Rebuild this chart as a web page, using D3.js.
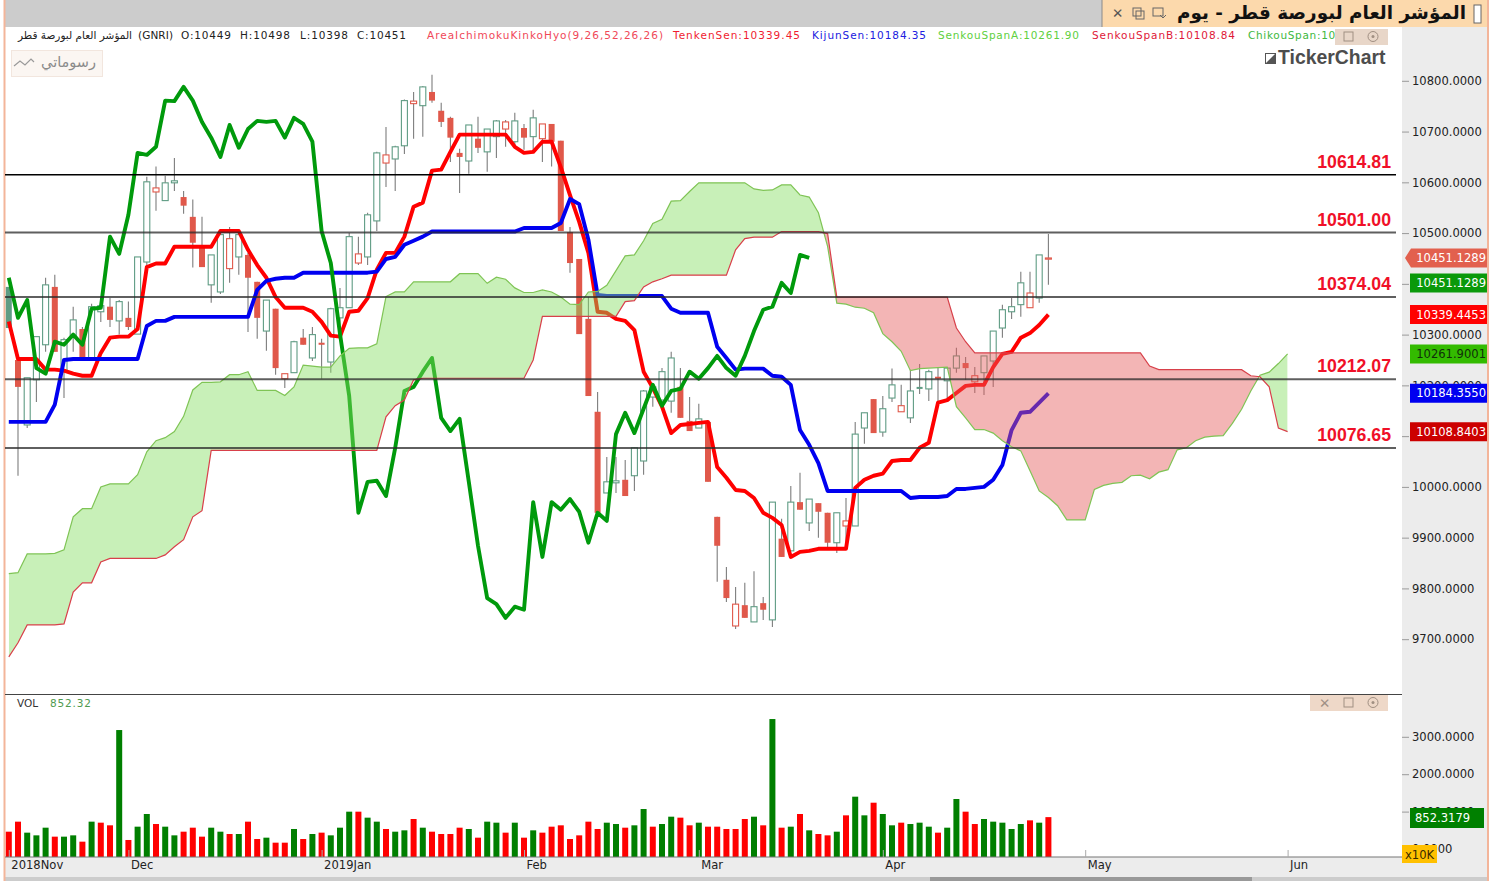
<!DOCTYPE html>
<html><head><meta charset="utf-8">
<script src="https://cdnjs.cloudflare.com/ajax/libs/d3/7.8.5/d3.min.js"></script>
<style>
html,body{margin:0;padding:0;background:#fff;overflow:hidden}
svg{display:block}
text{font-family:"DejaVu Sans",sans-serif}
</style></head><body>
<svg id="c" width="1489" height="881"></svg>
<script>
const opens=[10394,10250,10122,10211,10280,10394,10227,10296,10311,10254,
10345,10355,10327,10333,10301,10443,10581,10564,10599,10571,
10532,10473,10398,10384,10430,10453,10457,10404,10307,10351,
10213,10225,10294,10254,10284,10246,10333,10353,10441,10453,
10524,10638,10646,10672,10755,10751,10778,10741,10727,10658,
10642,10686,10660,10690,10705,10680,10707,10690,10686,10715,
10682,10502,10449,10331,10148,9988,10008,10014,10022,10051,
10177,10171,10169,10197,10130,10116,10128,9941,9817,9726,
9767,9734,9771,9738,9898,9874,9970,9929,9968,9949,
9890,9923,9923,10116,10173,10108,10175,10148,10136,10197,
10193,10217,10209,10234,10244,10207,10225,10248,10313,10345,
10359,10353,10372,10449];
const highs=[10394,10250,10215,10296,10412,10418,10294,10355,10315,10361,
10363,10372,10368,10365,10453,10611,10631,10613,10648,10583,
10566,10532,10457,10497,10512,10500,10461,10404,10368,10351,
10223,10288,10311,10315,10292,10353,10392,10500,10493,10540,
10660,10709,10672,10763,10778,10790,10812,10757,10729,10666,
10713,10729,10705,10723,10723,10737,10715,10743,10715,10715,
10682,10512,10449,10374,10187,10059,10059,10053,10077,10191,
10203,10234,10266,10234,10177,10164,10128,9941,9842,9803,
9811,9834,9783,9970,9937,10002,10028,9976,9968,9949,
9949,9978,10128,10146,10173,10179,10233,10201,10231,10242,
10231,10234,10236,10274,10256,10236,10258,10307,10359,10372,
10424,10424,10457,10498];
const lows=[10313,10022,10116,10167,10266,10266,10175,10266,10254,10254,
10325,10315,10300,10309,10301,10432,10544,10564,10583,10538,
10432,10433,10363,10380,10402,10418,10305,10292,10268,10221,
10195,10225,10280,10248,10213,10225,10303,10353,10437,10437,
10504,10591,10583,10656,10686,10690,10757,10709,10640,10579,
10617,10658,10621,10648,10670,10674,10664,10664,10640,10631,
10504,10422,10301,10179,9949,9988,9988,9982,9992,10024,
10158,10171,10146,10136,10110,10116,10010,9813,9773,9720,
9742,9734,9738,9724,9862,9874,9955,9913,9900,9880,
9870,9876,9923,10085,10106,10099,10167,10148,10126,10183,
10169,10167,10175,10225,10211,10185,10181,10197,10294,10331,
10335,10353,10363,10398];
const closes=[10313,10197,10215,10296,10398,10266,10290,10329,10254,10355,
10357,10329,10365,10315,10453,10601,10589,10599,10603,10554,
10481,10433,10457,10497,10489,10497,10412,10333,10368,10234,
10223,10286,10280,10300,10280,10351,10353,10493,10459,10536,
10658,10654,10670,10761,10760,10788,10761,10719,10688,10650,
10713,10668,10705,10721,10719,10721,10688,10727,10715,10680,
10504,10441,10301,10179,9949,10010,10012,9982,10077,10189,
10197,10227,10254,10136,10110,10134,10010,9884,9781,9769,
9742,9764,9758,9970,9862,9970,9955,9976,9951,9890,
9949,9933,10104,10146,10106,10154,10201,10160,10189,10193,
10227,10213,10234,10258,10234,10219,10258,10307,10349,10355,
10402,10382,10457,10451];
const tenkan=[10326,10252,10252,10252,10231,10231,10229,10223,10219,10219,
10264,10294,10296,10296,10311,10433,10440,10440,10473,10473,
10473,10473,10473,10504,10504,10504,10467,10437,10412,10374,
10353,10353,10353,10345,10325,10298,10296,10345,10347,10372,
10428,10461,10461,10493,10552,10560,10623,10625,10660,10694,
10694,10694,10694,10694,10694,10670,10658,10660,10680,10680,
10630,10575,10522,10461,10345,10343,10331,10327,10309,10227,
10195,10158,10106,10122,10124,10126,10128,10039,10018,9994,
9992,9978,9949,9939,9925,9862,9872,9874,9878,9878,
9878,9878,9998,10014,10022,10026,10051,10053,10053,10077,
10087,10166,10171,10185,10199,10201,10201,10236,10262,10266,
10294,10303,10319,10339.45];
const kijun=[10128,10128,10128,10128,10128,10162,10250,10252,10252,10252,
10252,10252,10252,10252,10252,10317,10327,10327,10335,10335,
10335,10335,10335,10335,10335,10335,10335,10388,10406,10410,
10412,10412,10422,10422,10422,10422,10422,10422,10422,10422,
10424,10449,10453,10477,10485,10493,10503,10503,10503,10503,
10503,10503,10503,10503,10503,10503,10510,10510,10510,10510,
10520,10567,10557,10487,10378,10376,10376,10376,10376,10376,
10376,10376,10351,10343,10343,10343,10343,10276,10254,10231,
10233,10233,10233,10219,10217,10201,10112,10083,10047,9992,
9992,9992,9992,9992,9992,9992,9992,9992,9978,9980,
9980,9980,9982,9996,9996,9998,10000,10014,10043,10112,
10146,10148,10166,10184.35];
const chikou=[10412,10333,10368,10234,10223,10286,10280,10300,10280,10351,
10353,10493,10459,10536,10658,10654,10670,10761,10760,10788,
10761,10719,10688,10650,10713,10668,10705,10721,10719,10721,
10688,10727,10715,10680,10504,10441,10301,10179,9949,10010,
10012,9982,10077,10189,10197,10227,10254,10136,10110,10134,
10010,9884,9781,9769,9742,9764,9758,9970,9862,9970,
9955,9976,9951,9890,9949,9933,10104,10146,10106,10154,
10201,10160,10189,10193,10227,10213,10234,10258,10234,10219,
10258,10307,10349,10355,10402,10382,10457,10451];
const spanA=[9829,9831,9868,9868,9868,9869,9876,9941,9957,9957,
10000,10006,10006,10006,10024,10069,10091,10097,10109,10139,
10191,10206,10206,10207,10221,10221,
10227,10190,10190,10190,10180,10197,10240,10238,10236,10236,
10258,10273,10274,10274,10282,10375,10384,10384,10404,10404,
10404,10404,10404,10420,10420,10420,10401,10413,10409,10392,
10383,10383,10388,10384,10374,10360,10359,10384,10385,10397,
10426,10455,10457,10485,10519,10527,10563,10564,10582,10599,
10599,10599,10599,10599,10599,10587,10584,10585,10595,10595,
10575,10571,10540,10474,10362,10360,10354,10352,10343,10302,
10286,10267,10229,10233,10234,10235,10236,10158,10136,10113,
10113,10106,10091,10079,10071,10032,9992,9979,9963,9935,
9935,9935,9995,10003,10007,10009,10022,10023,10016,10029,
10034,10073,10077,10091,10098,10100,10101,10125,10153,10189,
10220,10226,10243,10261.90];
const spanB=[9665,9693,9728,9728,9728,9728,9730,9793,9811,9811,
9852,9859,9859,9859,9859,9859,9859,9866,9882,9896,
9941,9953,10072,10072,10072,10072,10072,10072,10072,10072,
10072,10072,10072,10072,10072,10072,10072,10072,10072,10072,
10072,10138,10160,10171,10211,10214,10214,10214,10214,10214,
10214,10214,10214,10214,10214,10214,10214,10250,10336,10336,
10336,10336,10336,10336,10336,10336,10336,10365,10367,10394,
10404,10410,10417,10417,10417,10417,10417,10417,10417,10467,
10489,10492,10492,10492,10503,10503,10503,10503,10503,10499,
10374,10374,10374,10374,10374,10374,10374,10374,10374,10374,
10374,10374,10374,10313,10286,10264,10264,10264,10264,10264,
10264,10264,10264,10264,10264,10264,10264,10264,10264,10264,
10264,10264,10264,10264,10238,10231,10231,10231,10231,10231,
10231,10231,10231,10231,10231,10219,10217,10197,10116,10108.84];
const volumes=[463,731,437,365,570,330,330,365,196,731,704,633,3181,241,597,936,668,597,365,463,
570,330,570,463,401,401,731,267,303,169,169,535,267,401,437,365,570,998,998,838,
731,535,463,499,802,570,463,401,401,570,535,303,731,704,437,704,303,499,437,597,
633,267,365,731,535,704,668,570,633,1069,597,668,864,838,633,704,597,597,535,535,
802,864,633,3475,570,597,936,499,401,365,463,900,1399,900,1238,936,633,704,668,704,
597,437,570,1337,998,668,802,731,704,535,668,766,704,852.32];
const volUp=[0,0,1,1,1,0,1,1,0,1,0,0,1,0,1,1,0,1,1,0,
0,0,1,1,0,1,0,0,1,0,0,1,0,1,0,1,1,1,0,1,
1,0,1,1,0,1,0,0,0,0,1,0,1,1,0,1,0,1,0,0,
0,0,0,0,0,1,1,0,1,1,0,1,1,0,0,1,0,0,0,0,
0,1,0,1,0,1,0,1,0,0,1,0,1,1,0,1,1,0,1,1,
1,0,1,1,0,0,1,1,1,1,1,0,1,0];
const levels=[10614.81,10501.00,10374.04,10212.07,10076.65];
const priceTicks=[10800,10700,10600,10500,10400,10300,10200,10100,10000,9900,9800,9700];
const priceTicksCovered=[10400,10100];
const volTicks=[3000,2000,1000,0];
const monthIndex=[0,13,34,56,75,95,117,139];
const monthNames=["2018Nov","Dec","2019Jan","Feb","Mar","Apr","May","Jun"];
const lastTags=[
 {v:10451.1289,t:"10451.1289",fill:"#e2604e",txt:"#fff",arrow:true,off:0},
 {v:10451.1289,t:"10451.1289",fill:"#0a990a",txt:"#fff",off:25},
 {v:10339.4453,t:"10339.4453",fill:"#ff0000",txt:"#fff",off:0},
 {v:10261.9001,t:"10261.9001",fill:"#33bb00",txt:"#10300a",off:0},
 {v:10184.3550,t:"10184.3550",fill:"#0000f0",txt:"#fff",off:0},
 {v:10108.8403,t:"10108.8403",fill:"#cc0000",txt:"#fff",off:0}];

const svg=d3.select("#c");
const x=d3.scaleLinear().domain([0,139]).range([8.8,1287.6]);
const y=d3.scaleLinear().domain([9592,10906]).range([694,27]);
const yV=d3.scaleLinear().domain([-214,4118]).range([857,695]);
const R=(a,b,w,h,f,s)=>svg.append("rect").attr("x",a).attr("y",b).attr("width",w).attr("height",h).attr("fill",f).attr("stroke",s||"none");
const T=(a,b,t,o)=>{const e=svg.append("text").attr("x",a).attr("y",b).text(t);Object.entries(o||{}).forEach(([k,v])=>e.attr(k,v));return e;};

// frame
R(1402,27,85,850,"#ececec");
R(5,857,1482,20,"#ececec");
R(5,0,1097,27,"#cccccc");
R(1102,0,385,27,"#fcd9ac");
svg.append("line").attr("x1",1102).attr("x2",1102).attr("y1",0).attr("y2",27).attr("stroke","#8a8a8a");
R(5,877,1484,4,"#cccccc");
R(930,877,322,4,"#999999");
R(3.5,0,2,881,"#f3b59a");
R(1487,0,2,881,"#f3b59a");

// candles
const idx=d3.range(opens.length);
const col=i=>(i===0||closes[i]>closes[i-1])?"#5f9c84":"#e0584a";
const cg=svg.append("g");
cg.selectAll("line").data(idx).join("line")
 .attr("x1",i=>x(i)).attr("x2",i=>x(i)).attr("y1",i=>y(highs[i])).attr("y2",i=>y(lows[i]))
 .attr("stroke","#7d7d7d").attr("stroke-width",1.1);
cg.selectAll("rect").data(idx).join("rect")
 .attr("x",i=>x(i)-3).attr("width",6)
 .attr("y",i=>y(Math.max(opens[i],closes[i])))
 .attr("height",i=>Math.max(1.2,Math.abs(y(opens[i])-y(closes[i]))))
 .attr("fill",i=>closes[i]<opens[i]?col(i):"#fff")
 .attr("stroke",i=>col(i)).attr("stroke-width",i=>closes[i]<opens[i]?0:1.1);

// ichimoku lines
const line=d3.line().x((d,i)=>x(i)).y(d=>y(d));
[[tenkan,"#ff0000"],[kijun,"#0000f0"],[chikou,"#009a0c"]].forEach(([d,c])=>{
 svg.append("path").attr("d",line(d)).attr("fill","none").attr("stroke",c).attr("stroke-width",3.9).attr("stroke-linejoin","round");
});

// cloud
const defs=svg.append("defs");
const ci=d3.range(spanA.length);
defs.append("clipPath").attr("id","above").append("path")
 .attr("d",d3.area().x(i=>x(i)).y0(0).y1(i=>y(spanB[i]))(ci));
defs.append("clipPath").attr("id","below").append("path")
 .attr("d",d3.area().x(i=>x(i)).y0(881).y1(i=>y(spanB[i]))(ci));
const band=d3.area().x(i=>x(i)).y0(i=>y(spanA[i])).y1(i=>y(spanB[i]));
svg.append("path").attr("d",band(ci)).attr("fill","rgb(133,222,98)").attr("fill-opacity",.45).attr("clip-path","url(#above)");
svg.append("path").attr("d",band(ci)).attr("fill","rgb(228,92,92)").attr("fill-opacity",.45).attr("clip-path","url(#below)");
svg.append("path").attr("d",line(spanA)).attr("fill","none").attr("stroke","#7fc455").attr("stroke-width",1.2);
svg.append("path").attr("d",line(spanB)).attr("fill","none").attr("stroke","#d8404a").attr("stroke-width",1.2);

// levels
svg.append("g").selectAll("line").data(levels).join("line")
 .attr("x1",5).attr("x2",1396).attr("y1",d=>y(d)).attr("y2",d=>y(d))
 .attr("stroke",(d,i)=>i===0?"#000":"#2a2a2a").attr("stroke-width",(d,i)=>i===0?1.4:2).attr("stroke-opacity",(d,i)=>i===0?1:.75);
svg.append("g").selectAll("text").data(levels).join("text")
 .attr("x",1391).attr("y",d=>y(d)-7).attr("text-anchor","end")
 .style("font-family","'Liberation Sans',Arial,sans-serif").style("font-weight","bold").style("font-size","17.7px")
 .attr("fill","#f01028").text(d=>d.toFixed(2));

// volume
svg.append("line").attr("x1",5).attr("x2",1402).attr("y1",694.5).attr("y2",694.5).attr("stroke","#444").attr("stroke-width",1.2);
svg.append("g").selectAll("rect").data(volumes).join("rect")
 .attr("x",(d,i)=>x(i)-3).attr("width",6)
 .attr("y",d=>yV(d)).attr("height",d=>yV(-214)-yV(d))
 .attr("fill",(d,i)=>volUp[i]?"#007f00":"#ff0000");

// axes
const axStyle=g=>{g.select(".domain").remove();g.selectAll("line").attr("stroke","#9a9a9a");
 g.selectAll("text").attr("fill","#222").style("font-family","'DejaVu Sans'").style("font-size","11.55px");};
svg.append("g").attr("transform","translate(1402,0)")
 .call(d3.axisRight(y).tickValues(priceTicks).tickSize(7).tickPadding(3).tickFormat(d=>priceTicksCovered.includes(d)?"":d.toFixed(4))).call(axStyle);
svg.append("g").attr("transform","translate(1402,0)")
 .call(d3.axisRight(d3.scaleLinear().domain([0,3000]).range([849,736.8])).tickValues(volTicks).tickSize(7).tickPadding(3).tickFormat(d=>d.toFixed(4))).call(axStyle);
svg.append("line").attr("x1",5).attr("x2",1402).attr("y1",857).attr("y2",857).attr("stroke","#777").attr("stroke-width",1.2);
const xa=svg.append("g").attr("transform","translate(0,857)")
 .call(d3.axisBottom(x).tickValues(monthIndex).tickSize(-7).tickPadding(3).tickFormat((d,i)=>monthNames[i])).call(axStyle);
xa.selectAll("line").attr("stroke","#aaa");
xa.selectAll("text").attr("text-anchor","start").attr("dx",2).attr("y",4);

// last-value tags
const tg=svg.append("g").selectAll("g").data(lastTags).join("g").attr("transform",d=>`translate(0,${y(d.v)+d.off})`);
tg.append("path").attr("d",d=>d.arrow?"M1405,0L1411,-9.5H1487V9.5H1411Z":"M1410,-9.5H1487V9.5H1410Z").attr("fill",d=>d.fill);
tg.append("text").attr("x",1486).attr("y",4).attr("text-anchor","end").style("font-size","11.55px").attr("fill",d=>d.txt).text(d=>d.t);
R(1410,808,74,20,"#008000");
T(1415,822,"852.3179",{fill:"#fff","font-size":"11.55px"});
R(1402,845,35,18,"#ffc000");
T(1405,859,"x10K",{fill:"#3a2a00","font-size":"11.55px"});

// header legend
const hdr=[["(GNRI)",138,35,"#222"],["O:10449",181,50,"#222"],["H:10498",240,50,"#222"],["L:10398",300,48,"#222"],["C:10451",357,49,"#222"],
 ["AreaIchimokuKinkoHyo(9,26,52,26,26)",427,236,"#f04858"],["TenkenSen:10339.45",673,127,"#f01c30"],["KijunSen:10184.35",812,114,"#2020e0"],
 ["SenkouSpanA:10261.90",938,141,"#60d040"],["SenkouSpanB:10108.84",1092,143,"#e01838"],["ChikouSpan:10451.13",1248,128,"#40b840"]];
hdr.forEach(h=>T(h[1],39,h[0],{fill:h[3],"font-size":"10.5px",textLength:h[2],lengthAdjust:"spacing"}));
T(132,39,"المؤشر العام لبورصة قطر",{fill:"#222","font-size":"10.5px","text-anchor":"start",direction:"rtl"});
T(17,707,"VOL",{fill:"#333","font-size":"10.5px"});
T(50,707,"852.32",{fill:"#4f9a4f","font-size":"10.5px",textLength:41,lengthAdjust:"spacing"});

// title bar
T(1466,19,"المؤشر العام لبورصة قطر - يوم",{fill:"#111","font-size":"18.4px","font-weight":"bold","text-anchor":"start",direction:"rtl"});
R(1474,5,7,18,"#fff","#666");
const ic=(cx,cy,col)=>{
 svg.append("rect").attr("x",cx-5).attr("y",cy-5).attr("width",8).attr("height",8).attr("fill","none").attr("stroke",col);
 svg.append("rect").attr("x",cx-2).attr("y",cy-2).attr("width",8).attr("height",8).attr("fill","none").attr("stroke",col);};
T(1112,18,"✕",{fill:"#555","font-size":"13.5px","font-weight":"bold"});
ic(1138,13,"#666");
svg.append("rect").attr("x",1153).attr("y",8).attr("width",10).attr("height",8).attr("fill","none").attr("stroke","#666");
svg.append("path").attr("d","M1160,15l3,3l3,-3").attr("fill","none").attr("stroke","#666");

// control boxes
R(1335,29,53,16,"#e8d6c8");
svg.append("rect").attr("x",1344).attr("y",32).attr("width",9).attr("height",9).attr("fill","none").attr("stroke","#a08f82");
svg.append("circle").attr("cx",1373).attr("cy",36.5).attr("r",5).attr("fill","none").attr("stroke","#a08f82");
svg.append("circle").attr("cx",1373).attr("cy",36.5).attr("r",1.5).attr("fill","#a08f82");
R(1310,695,78,16,"#eed8c8");
T(1319,708,"✕",{fill:"#a09085","font-size":"13.5px","font-weight":"bold"});
svg.append("rect").attr("x",1344).attr("y",698).attr("width",9).attr("height",9).attr("fill","none").attr("stroke","#a08f82");
svg.append("circle").attr("cx",1373).attr("cy",702.5).attr("r",5).attr("fill","none").attr("stroke","#a08f82");
svg.append("circle").attr("cx",1373).attr("cy",702.5).attr("r",1.5).attr("fill","#a08f82");

// drawings button & watermark
R(11.5,50.5,91,26,"#fbf6f2","#f2e6de");
T(96,67,"رسوماتي",{fill:"#8a8a8a","font-size":"14.5px","text-anchor":"start",direction:"rtl"});
svg.append("path").attr("d","M14,66l6,-5l5,4l6,-6l3,3").attr("fill","none").attr("stroke","#9a9a9a").attr("stroke-width",1.2);
R(1265.5,53.5,10,10,"#fff","#555");
svg.append("path").attr("d","M1266,63l9,-9v9z").attr("fill","#555");
T(1278,63.5,"TickerChart",{fill:"#4d4d4d","font-size":"19.4px","font-weight":"bold",style:"font-family:'Liberation Sans',Arial,sans-serif"});
</script>
</body></html>
